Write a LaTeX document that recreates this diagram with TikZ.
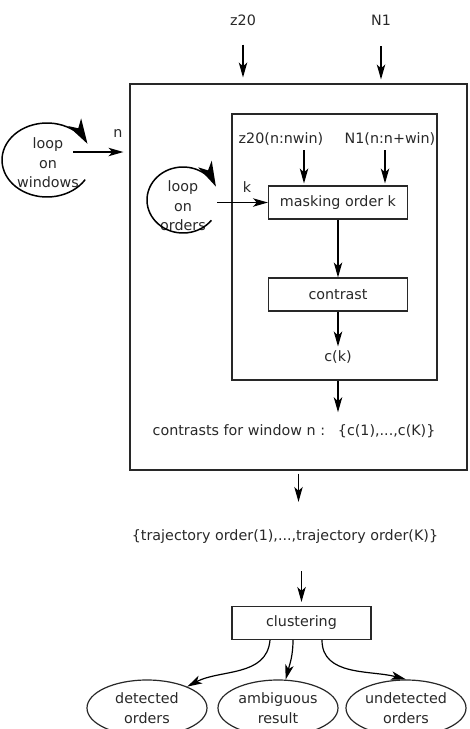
\documentclass[tikz,border=0pt]{standalone}
\usepackage{fontspec}
\setmainfont{DejaVu Sans}
\usetikzlibrary{arrows.meta,shapes.geometric}

\definecolor{ink}{RGB}{40,40,40}

\begin{document}
\begin{tikzpicture}[x=1pt, y=1pt, font=\fontsize{14.3}{19.5}\selectfont, color=ink,
  >={Stealth[length=15pt, width=8.5pt, inset=4pt]},
  box/.style={shape=rectangle, draw=ink, line width=1.2pt, minimum width=139pt, minimum height=33pt, inner sep=0pt},
  frame/.style={shape=rectangle, draw=ink, line width=1.2pt, inner sep=0pt},
  oval/.style={shape=ellipse, draw=ink, line width=1.2pt, minimum width=120pt, minimum height=56pt, inner sep=0pt, align=center},
  txt/.style={inner sep=1pt, align=center},
  arr/.style={->, line width=1.2pt, draw=black},
  looparr/.style={-{Stealth[length=25pt, width=15pt, inset=7pt]}, line width=1.5pt, draw=black}]
\useasboundingbox (0,0) rectangle (470,-729);
\node[txt] (z20) at (243,-20) {z20};
\node[txt] (N1) at (381,-20) {N1};
\node[frame, minimum width=337pt, minimum height=386pt] (outer) at (298.5,-277) {};
\node[frame, minimum width=205pt, minimum height=266pt] (inner) at (334.5,-247) {};
\node[txt] (z20win) at (281,-139) {z20(n:nwin)};
\node[txt] (N1win) at (390,-139) {N1(n:n+win)};
\node[box] (mask) at (338,-202.5) {masking order k};
\node[box] (contrast) at (338,-294.5) {contrast};
\node[txt] (ck) at (338,-357) {c(k)};
\node[txt] (cwin) at (294,-431) {contrasts for window n :\hspace{0.9em}\{c(1),...,c(K)\}};
\node[txt] (traj) at (285,-537) {\{trajectory order(1),...,trajectory order(K)\}};
\node[box] (clus) at (301.5,-623) {clustering};
\node[oval] (det) at (147,-708) {detected\\orders};
\node[oval] (amb) at (278,-708) {ambiguous\\result};
\node[oval] (undet) at (406,-708) {undetected\\orders};
\node[txt] (loopwin) at (48,-163) {loop\\on\\windows};
\node[txt] (loopord) at (183,-206) {loop\\on\\orders};
\node[txt] (nlbl) at (118,-133) {n};
\node[txt] (klbl) at (247,-187) {k};
\coordinate (nfrom) at (73,-152);
\coordinate (kfrom) at (217,-202.5);
\coordinate (zdrop) at (304,-150);
\coordinate (ndrop) at (385,-150);
\coordinate (wloop) at (47,-160);
\coordinate (oloop) at (183,-200);
% loops
\draw[looparr] (wloop) ++(-32:45 and 37) arc[start angle=-32, end angle=-334, x radius=45, y radius=37];
\draw[looparr] (oloop) ++(-38:36 and 33) arc[start angle=-38, end angle=-336, x radius=36, y radius=33];
% inputs
\path (z20) edge[arr, shorten <=18pt, shorten >=6pt] (z20 |- outer.north);
\path (N1) edge[arr, shorten <=20pt, shorten >=4pt] (N1 |- outer.north);
\path (nfrom) edge[arr, shorten >=6pt] (nfrom -| outer.west);
\path (kfrom) edge[arr] (mask);
\path (zdrop) edge[arr, shorten >=2pt] (zdrop |- mask.north);
\path (ndrop) edge[arr, shorten >=2pt] (ndrop |- mask.north);
% chain
\path (mask) edge[arr] (contrast);
\path (contrast) edge[arr, shorten >=3pt] (ck);
\path (ck |- inner.south) edge[arr, shorten >=11pt] (ck |- cwin.north);
\path (outer.south) edge[arr, shorten <=3pt, shorten >=27pt] (outer.south |- traj.north);
\path (clus.north |- traj.south) edge[arr, shorten <=26pt, shorten >=4pt] (clus.north);
% results
\path ([xshift=-31.5pt]clus.south) edge[arr, out=-95, in=28] (det);
\path ([xshift=-8.5pt]clus.south) edge[arr, out=-90, in=75] (amb);
\path ([xshift=20.5pt]clus.south) edge[arr, out=-90, in=165] (undet.north);
\end{tikzpicture}
\end{document}
